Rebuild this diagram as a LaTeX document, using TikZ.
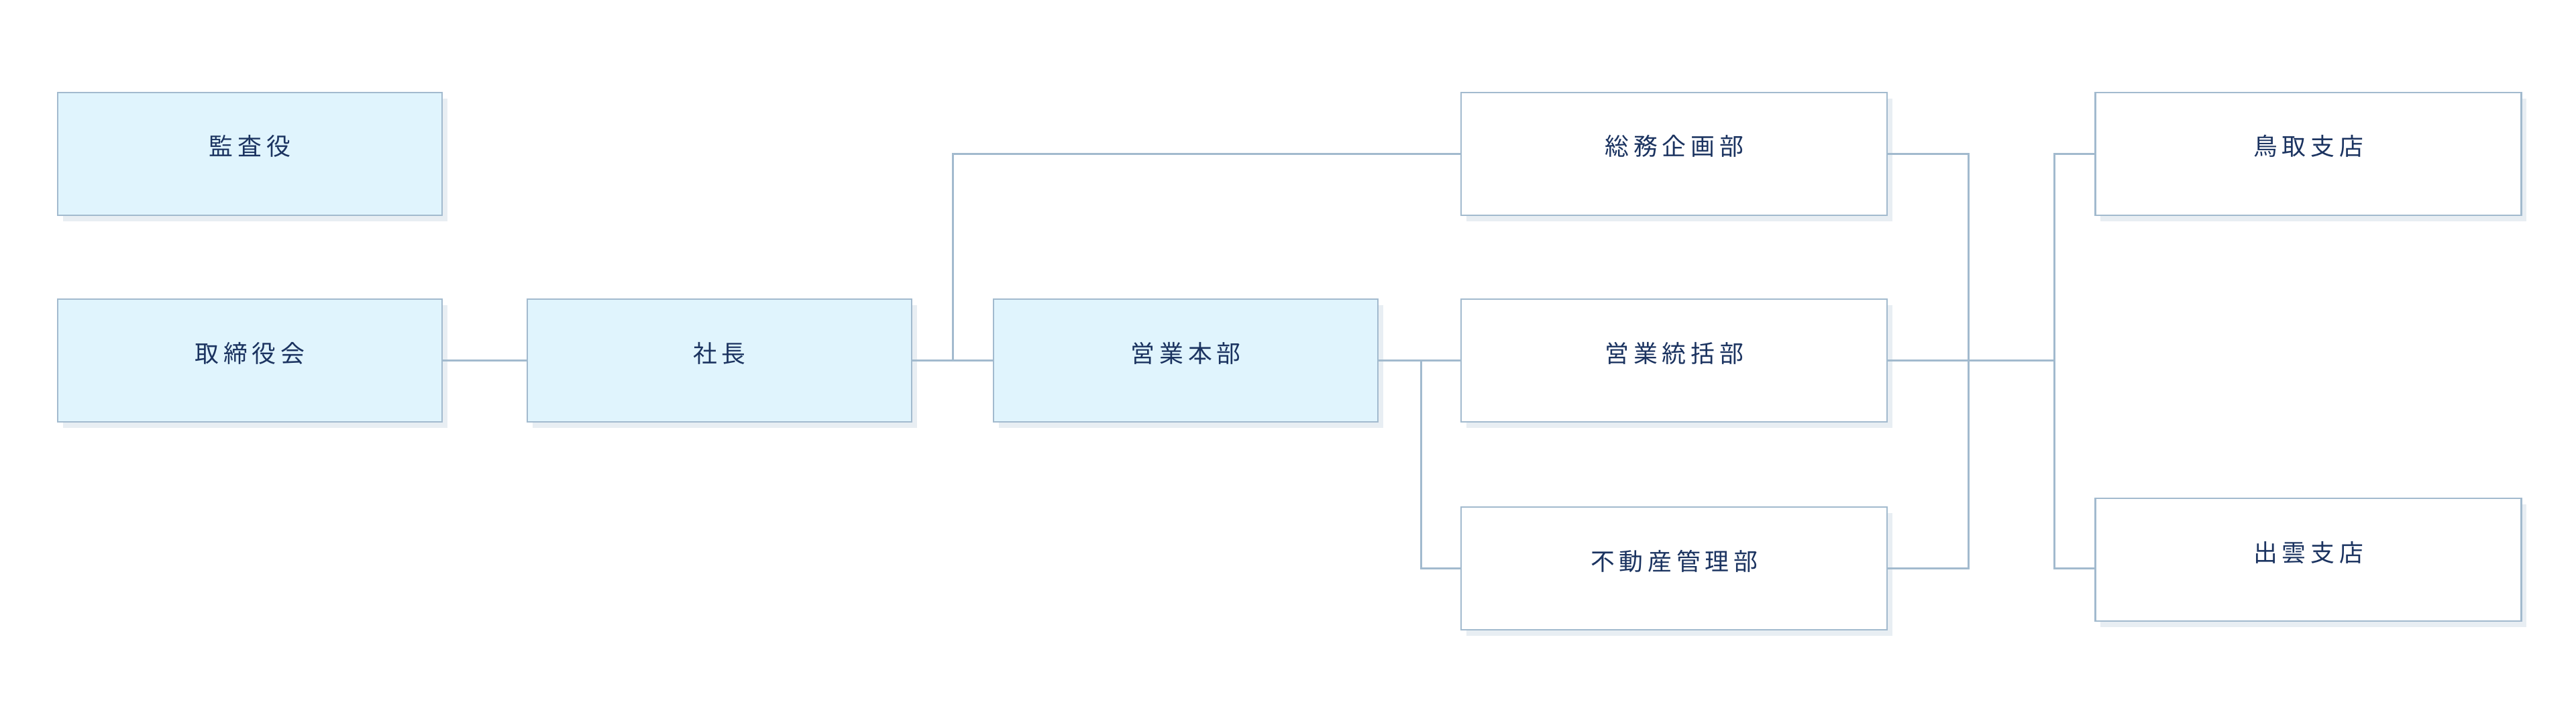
\documentclass[tikz,border=0pt]{standalone}
\usepackage{fontspec}
\newfontfamily\jpfont{Noto Sans CJK JP}[LetterSpace=19]
\usepackage{xcolor}
\usepackage{tikz}
\usetikzlibrary{positioning,calc,shadows}

\definecolor{framec}{HTML}{A2BACE}
\definecolor{execfill}{HTML}{E0F4FD}
\definecolor{shadowc}{HTML}{E8EEF3}
\definecolor{textc}{HTML}{1B3360}

\begin{document}
\begin{tikzpicture}[
    node distance=1.23cm,
    box/.style={rectangle, draw=framec, line width=0.6pt, fill=white,
        minimum height=1.83cm, text height=0.35cm, text depth=0.3cm,
        font={\jpfont\fontsize{10.2pt}{12pt}\selectfont}, text=textc,
        drop shadow={shadow xshift=0.08cm, shadow yshift=-0.09cm, fill=shadowc, opacity=1}},
    exec/.style={box, fill=execfill, minimum width=5.73cm},
    dept/.style={box, minimum width=6.35cm},
    conn/.style={draw=framec, line width=0.75pt}
]
    \path[use as bounding box, fill=white] (0,0) rectangle (38.4,-10.74);

    \node[exec] (board) at (3.725,-5.375) {取締役会};
    \node[exec, above=of board] (audit) {監査役};
    \node[exec, right=1.25cm of board] (ceo) {社長};
    \node[exec, right=1.2cm of ceo] (sales) {営業本部};
    \node[dept, right=1.22cm of sales] (salesmgmt) {営業統括部};
    \node[dept, above=of salesmgmt] (general) {総務企画部};
    \node[dept, below=1.25cm of salesmgmt] (estate) {不動産管理部};
    \node[dept, right=3.08cm of general] (tottori) {鳥取支店};
    \node[dept, below=4.2cm of tottori] (izumo) {出雲支店};

    \coordinate (j1) at ($(ceo.east)!0.5!(sales.west)$);
    \coordinate (j2) at ($(sales.east)!0.52!(salesmgmt.west)$);
    \coordinate (r1) at ($(salesmgmt.east)!0.39!(tottori.west)$);
    \coordinate (r2) at ($(salesmgmt.east)!0.805!(tottori.west)$);

    \draw[conn] (board) -- (ceo);
    \draw[conn] (ceo) -- (sales);
    \draw[conn] (j1) |- (general.west);
    \draw[conn] (sales) -- (salesmgmt);
    \draw[conn] (j2) |- (estate.west);
    \draw[conn] (general.east) -| (r1 |- estate.east) -- (estate.east);
    \draw[conn] (salesmgmt.east) -- (r2 |- salesmgmt.east);
    \draw[conn] (tottori.west) -| (r2 |- estate.east) -- (izumo.west |- estate.east);
\end{tikzpicture}
\end{document}
